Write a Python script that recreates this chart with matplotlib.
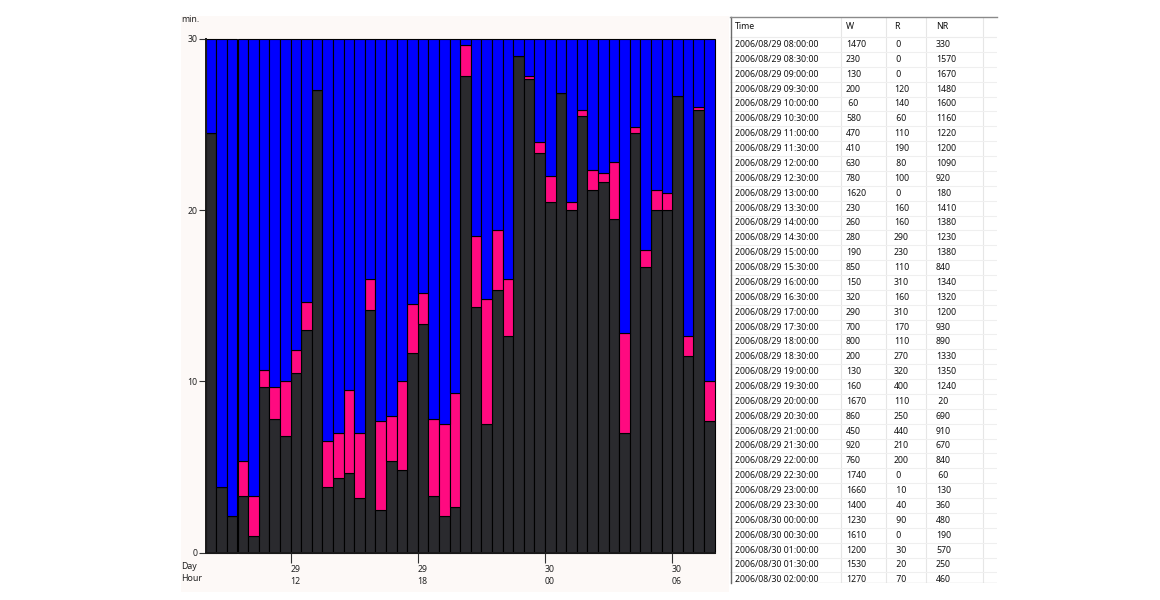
import matplotlib
matplotlib.use("Agg")
import matplotlib.pyplot as plt
from matplotlib.patches import Rectangle
import pandas as pd
import numpy as np

# ---- data (seconds per 30-minute slot) ----
times = pd.date_range("2006-08-29 08:00", periods=48, freq="30min")
W = [1470, 230, 130, 200, 60, 580, 470, 410, 630, 780, 1620, 230,
     260, 280, 190, 850, 150, 320, 290, 700, 800, 200, 130, 160,
     1670, 860, 450, 920, 760, 1740, 1660, 1400, 1230, 1610, 1200, 1530,
     1270, 1300, 1170, 420, 1470, 1000, 1200, 1200, 1600, 690, 1550, 460]
R = [0, 0, 0, 120, 140, 60, 110, 190, 80, 100, 0, 160,
     160, 290, 230, 110, 310, 160, 310, 170, 110, 270, 320, 400,
     110, 250, 440, 210, 200, 0, 10, 40, 90, 0, 30, 20,
     70, 30, 200, 350, 20, 60, 70, 60, 0, 70, 10, 140]
NR = [330, 1570, 1670, 1480, 1600, 1160, 1220, 1200, 1090, 920, 180, 1410,
      1380, 1230, 1380, 840, 1340, 1320, 1200, 930, 890, 1330, 1350, 1240,
      20, 690, 910, 670, 840, 60, 130, 360, 480, 190, 570, 250,
      460, 470, 430, 1030, 310, 740, 530, 540, 200, 1040, 240, 1200]
columns = ["Time", "W", "R", "NR"]
y_ticks = [0, 10, 20, 30]

C_W, C_R, C_NR = "#2a2a2e", "#ff0a80", "#0000ff"
FONT = "Noto Sans"
FS = 6.3
PANEL = "#fdf9f7"

W_min = np.array(W) / 60.0
R_min = np.array(R) / 60.0
NR_min = np.array(NR) / 60.0

FW, FH = 1160, 600
fig = plt.figure(figsize=(FW / 100, FH / 100), dpi=100)
fig.patch.set_facecolor("white")

def fx(x):
    return x / FW

def fy(y):
    return 1 - y / FH

# chart panel background
fig.patches.append(Rectangle((fx(181), fy(592)), fx(729) - fx(181), fy(16) - fy(592),
                             transform=fig.transFigure, facecolor=PANEL,
                             edgecolor="none", zorder=-10))

# ---- chart ----
ax = fig.add_axes([fx(205.7), fy(552.7), fx(714.5) - fx(205.7), fy(39) - fy(552.7)])
ax.set_facecolor(PANEL)
x = np.arange(len(W))
kw = dict(width=1.0, align="edge", edgecolor="black", linewidth=0.8, clip_on=False)
ax.bar(x, W_min, color=C_W, **kw)
ax.bar(x, R_min, bottom=W_min, color=C_R, **kw)
ax.bar(x, NR_min, bottom=W_min + R_min, color=C_NR, **kw)
ax.set_xlim(0, len(W))
ax.set_ylim(0, 30)

for s in ["top", "right"]:
    ax.spines[s].set_visible(False)
for s in ["left", "bottom"]:
    ax.spines[s].set_linewidth(1.4)
    ax.spines[s].set_color("#1a1a1a")

ax.set_yticks(y_ticks)
ax.set_yticklabels([str(v) for v in y_ticks], fontfamily=FONT, fontsize=FS, color="#222222")
ax.tick_params(axis="y", length=5, width=0.8, color="#333333", pad=1)

tick_pos = [i for i, t in enumerate(times) if t.minute == 0 and t.hour % 6 == 0]
tick_lab = [f"{times[i].day:02d}\n{times[i].hour:02d}" for i in tick_pos]
ax.set_xticks(tick_pos)
ax.set_xticklabels(tick_lab, fontfamily=FONT, fontsize=FS, color="#222222",
                   ha="left", linespacing=1.45)
ax.tick_params(axis="x", length=7, width=0.8, color="#333333", pad=2)

fig.text(fx(181), fy(20), "min.", fontfamily=FONT, fontsize=FS, ha="left", va="center", color="#222222")
fig.text(fx(181), fy(566.5), "Day", fontfamily=FONT, fontsize=FS, ha="left", va="center", color="#222222")
fig.text(fx(181), fy(578.5), "Hour", fontfamily=FONT, fontsize=FS, ha="left", va="center", color="#222222")

# ---- table (only the rows that fit in its viewport are shown) ----
T_L, T_R, T_T, T_B = 730, 997, 16.5, 583
axt = fig.add_axes([fx(T_L), fy(T_B), fx(T_R) - fx(T_L), fy(T_T) - fy(T_B)])
axt.set_xlim(T_L, T_R)
axt.set_ylim(T_B, T_T)
axt.axis("off")

col_x = [735, 846, 894, 936]
col_lines = [841, 886, 926, 983]
row0, rstep, head_y = 44.5, 14.87, 26.5

for cx in col_lines:
    axt.plot([cx, cx], [T_T, T_B], color="#e6e6e6", lw=0.8)
axt.plot([T_L, T_R], [head_y + 10.5, head_y + 10.5], color="#ececec", lw=0.8)
for k in range(len(W)):
    yy = row0 + rstep * k + rstep / 2
    if yy < T_B:
        axt.plot([T_L, T_R], [yy, yy], color="#efefef", lw=0.8)
axt.plot([T_L, T_R], [T_B - 0.5, T_B - 0.5], color="#d8d8d8", lw=1.0)
axt.plot([T_L + 0.5, T_L + 0.5], [T_T, T_B], color="#6a6a6a", lw=1.0, clip_on=False)
axt.plot([T_L, T_R], [T_T, T_T], color="#8a8a8a", lw=1.0, clip_on=False)

for cx, name in zip(col_x, columns):
    axt.text(cx, head_y, name, fontfamily=FONT, fontsize=FS, ha="left", va="center", color="#111111")

def fmt(v):
    return str(v) if v >= 100 else " " + str(v)

for k, t in enumerate(times):
    yy = row0 + rstep * k
    if yy - 4 > T_B:
        continue
    vals = [t.strftime("%Y/%m/%d %H:%M:%S"), fmt(W[k]), fmt(R[k]), fmt(NR[k])]
    for cx, s in zip(col_x, vals):
        axt.text(cx, yy, s, fontfamily=FONT, fontsize=FS, ha="left", va="center",
                 color="#111111", clip_on=True)

fig.savefig("out.png", dpi=100, facecolor="white")
